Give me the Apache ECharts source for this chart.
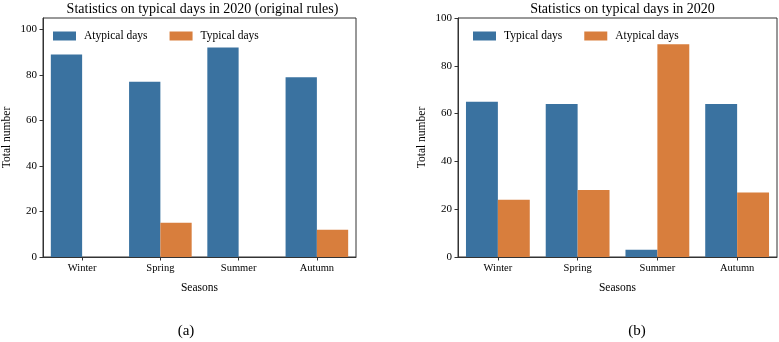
<!DOCTYPE html>
<html>
<head>
<meta charset="utf-8">
<script src="https://cdn.jsdelivr.net/npm/echarts@6/dist/echarts.min.js"></script>
<style>
  html, body { margin: 0; padding: 0; background: #fff; }
  #chart { width: 779px; height: 342px; }
</style>
</head>
<body>
<div id="chart"></div>
<script>
// data
var seasons = ['Winter', 'Spring', 'Summer', 'Autumn'];
// (a) original rules
var atypicalA = [89, 77, 92, 79];
var typicalA = [0, 15, 0, 12];
// (b) new rules
var typicalB = [65, 64, 3, 64];
var atypicalB = [24, 28, 89, 27];
var yTicks = [0, 20, 40, 60, 80, 100];

var blue = '#3a72a0';
var orange = '#d87e3d';
var serif = 'Liberation Serif, Times New Roman, serif';

var myChart = echarts.init(document.getElementById('chart'));

function xAxisOf(idx) {
    return {
        type: 'category',
        gridIndex: idx,
        data: seasons,
        name: 'Seasons',
        nameLocation: 'middle',
        nameGap: 25,
        nameTextStyle: { fontFamily: serif, fontSize: 11.5, color: '#000' },
        axisLine: { show: true, lineStyle: { color: '#333', width: 1 } },
        axisTick: { show: true, alignWithLabel: true, length: 3.5, lineStyle: { color: '#333' } },
        axisLabel: { fontFamily: serif, fontSize: 10.5, color: '#000', margin: 6 },
        splitLine: { show: false }
    };
}

function yAxisOf(idx, max) {
    return {
        type: 'value',
        gridIndex: idx,
        min: 0,
        max: max,
        name: 'Total number',
        nameLocation: 'middle',
        nameGap: 30,
        nameTextStyle: { fontFamily: serif, fontSize: 11.5, color: '#000' },
        axisLine: { show: true, lineStyle: { color: '#333', width: 1 } },
        axisTick: { show: true, length: 3.5, customValues: yTicks, lineStyle: { color: '#333' } },
        axisLabel: { fontFamily: serif, fontSize: 11, color: '#000', margin: 6, customValues: yTicks },
        splitLine: { show: false }
    };
}

function legendOf(left, names, colors) {
    return {
        left: left,
        top: 25,
        itemWidth: 23,
        itemHeight: 9,
        itemGap: 22,
        icon: 'rect',
        textStyle: { fontFamily: serif, fontSize: 11.5, color: '#000', padding: [0, 0, 0, 3] },
        data: [
            { name: names[0], itemStyle: { color: colors[0] } },
            { name: names[1], itemStyle: { color: colors[1] } }
        ],
        selectedMode: false
    };
}

function barOf(name, idx, values, color) {
    return {
        type: 'bar',
        name: name,
        xAxisIndex: idx,
        yAxisIndex: idx,
        data: values,
        barGap: '0%',
        barCategoryGap: '20%',
        itemStyle: { color: color },
        animation: false
    };
}

var titleFont = { fontFamily: serif, fontSize: 14, fontWeight: 'normal', color: '#000' };
var capFont = { fontFamily: serif, fontSize: 15, fontWeight: 'normal', color: '#000' };

var option = {
    backgroundColor: '#fff',
    title: [
        { text: 'Statistics on typical days in 2020 (original rules)', left: 197.5, top: -3, textAlign: 'center', textStyle: titleFont },
        { text: 'Statistics on typical days in 2020', left: 617.5, top: -3, textAlign: 'center', textStyle: titleFont },
        { text: '(a)', left: 181, top: 319, textAlign: 'center', textStyle: capFont },
        { text: '(b)', left: 632, top: 319, textAlign: 'center', textStyle: capFont }
    ],
    legend: [
        legendOf(48, ['Atypical days', 'Typical days'], [blue, orange]),
        legendOf(468, ['Typical days', 'Atypical days'], [blue, orange])
    ],
    grid: [
        { left: 39, top: 18, width: 317, height: 239, show: true, borderColor: '#333', borderWidth: 1 },
        { left: 458, top: 18, width: 319, height: 239, show: true, borderColor: '#333', borderWidth: 1 }
    ],
    xAxis: [xAxisOf(0), xAxisOf(1)],
    yAxis: [yAxisOf(0, 105), yAxisOf(1, 100)],
    series: [
        barOf('Atypical days', 0, atypicalA, blue),
        barOf('Typical days', 0, typicalA, orange),
        barOf('Typical days', 1, typicalB, blue),
        barOf('Atypical days', 1, atypicalB, orange)
    ]
};
myChart.setOption(option, true);
</script>
</body>
</html>
